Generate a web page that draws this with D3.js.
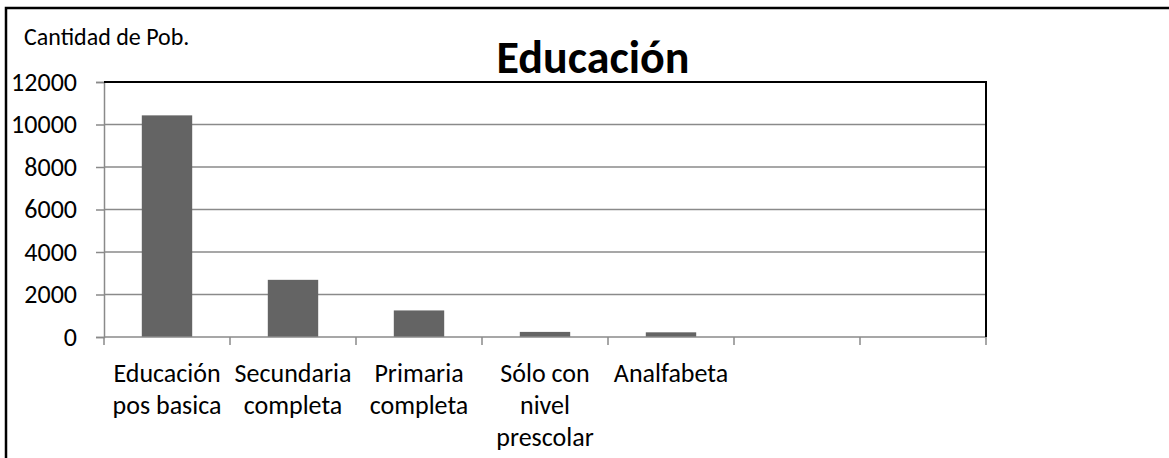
<!DOCTYPE html>
<html>
<head>
<meta charset="utf-8">
<script src="https://cdn.jsdelivr.net/npm/d3@7"></script>
<style>
  html, body { margin: 0; padding: 0; background: #fff; }
  svg { display: block; }
  text { font-family: Carlito, Calibri, Lato, "Open Sans", sans-serif; fill: #000; }
</style>
</head>
<body>
<svg id="chart" width="1169" height="458"></svg>
<script>
// ---- data ----
const title = "Educación";
const yAxisLabel = "Cantidad de Pob.";
const categories = ["Educación\npos basica", "Secundaria\ncompleta", "Primaria\ncompleta", "Sólo con\nnivel\nprescolar", "Analfabeta", "", ""];
const values = [10430, 2690, 1250, 240, 220, null, null];
const yTicks = [0, 2000, 4000, 6000, 8000, 10000, 12000];

// ---- layout ----
const svg = d3.select("#chart");
const plot = { left: 104, right: 986, top: 82, bottom: 337 };

const x = d3.scaleBand().domain(d3.range(categories.length))
  .range([plot.left, plot.right]).paddingInner(0.6).paddingOuter(0.3);
const xCells = d3.scaleBand().domain(d3.range(categories.length))
  .range([plot.left, plot.right]).padding(0);
const y = d3.scaleLinear().domain([0, 12000]).range([plot.bottom, plot.top]);

// outer chart border (extends past the window on right/bottom)
svg.append("rect").attr("x", 6).attr("y", 8).attr("width", 1300).attr("height", 600)
  .attr("fill", "none").attr("stroke", "#000").attr("stroke-width", 2.5);

// gridlines
svg.append("g").selectAll("line").data(yTicks.filter(t => t > 0 && t < 12000)).join("line")
  .attr("x1", plot.left).attr("x2", plot.right)
  .attr("y1", d => y(d)).attr("y2", d => y(d))
  .attr("stroke", "#8a8a8a").attr("stroke-width", 1.5);

// bars
svg.append("g").selectAll("rect").data(values.map((v, i) => ({ v, i })).filter(d => d.v != null)).join("rect")
  .attr("x", d => x(d.i)).attr("width", x.bandwidth())
  .attr("y", d => y(d.v)).attr("height", d => y(0) - y(d.v))
  .attr("fill", "#646464");

// y axis
const yAxis = svg.append("g").attr("transform", `translate(${plot.left},0)`)
  .call(d3.axisLeft(y).tickValues(yTicks).tickSize(8).tickPadding(19).tickFormat(d3.format("d")));
yAxis.select(".domain").attr("stroke", "#8a8a8a").attr("stroke-width", 1.5);
yAxis.selectAll(".tick line").attr("stroke", "#8a8a8a").attr("stroke-width", 1.5);
yAxis.selectAll(".tick text").style("font-size", "26px").attr("fill", "#000");

// x axis (category boundaries)
const boundaries = xCells.domain().map(d => xCells(d)).concat([plot.right]);
const xAxis = svg.append("g").attr("transform", `translate(0,${plot.bottom})`);
xAxis.append("line").attr("x1", plot.left).attr("x2", plot.right)
  .attr("stroke", "#8a8a8a").attr("stroke-width", 1.5);
xAxis.selectAll("line.tk").data(boundaries).join("line").attr("class", "tk")
  .attr("x1", d => d).attr("x2", d => d).attr("y1", 0).attr("y2", 8)
  .attr("stroke", "#8a8a8a").attr("stroke-width", 1.5);

// category labels
const lbl = svg.append("g").selectAll("text").data(categories.map((c, i) => ({ c, i }))).join("text")
  .attr("text-anchor", "middle").style("font-size", "26px")
  .attr("transform", d => `translate(${x(d.i) + x.bandwidth() / 2},382)`);
lbl.selectAll("tspan").data(d => d.c ? d.c.split("\n") : []).join("tspan")
  .attr("x", 0).attr("y", (d, j) => j * 32).text(d => d);

// plot area top & right border (black)
svg.append("line").attr("x1", plot.left).attr("x2", plot.right + 1)
  .attr("y1", y(12000)).attr("y2", y(12000)).attr("stroke", "#000").attr("stroke-width", 2);
svg.append("line").attr("x1", plot.right).attr("x2", plot.right)
  .attr("y1", y(12000)).attr("y2", y(0)).attr("stroke", "#000").attr("stroke-width", 2);

// title
svg.append("text").attr("x", 593).attr("y", 73).attr("text-anchor", "middle")
  .style("font-size", "46px").style("font-weight", "bold").text(title);

// axis title
svg.append("text").attr("x", 24).attr("y", 45).style("font-size", "24px").text(yAxisLabel);
</script>
</body>
</html>
